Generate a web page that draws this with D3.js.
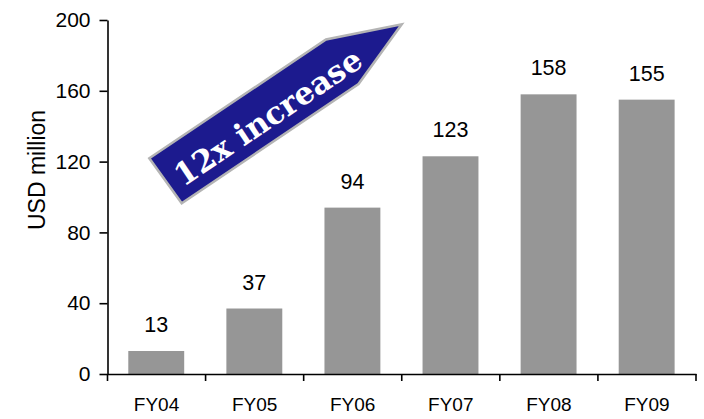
<!DOCTYPE html>
<html><head><meta charset="utf-8">
<script src="https://cdn.jsdelivr.net/npm/d3@7"></script>
<style>
html,body{margin:0;padding:0;background:#fff;}
svg{display:block;}
</style></head>
<body>
<svg id="chart" width="704" height="419"></svg>
<script>
const categories = ["FY04","FY05","FY06","FY07","FY08","FY09"];
const values = [13, 37, 94, 123, 158, 155];
const yTicks = [0, 40, 80, 120, 160, 200];
const yTitle = "USD million";
const arrowText = "12x increase";

const svg = d3.select("#chart");
const x = d3.scaleBand().domain(categories).range([107.5, 696]).paddingInner(0).paddingOuter(0);
const y = d3.scaleLinear().domain([0, 200]).range([374, 20]);
const step = x.step();
const font = "'Liberation Sans', Arial, sans-serif";

// bars
svg.append("g").selectAll("rect").data(categories).join("rect")
  .attr("x", d => x(d) + step * 0.212)
  .attr("width", step * 0.57)
  .attr("y", (d, i) => y(values[i]))
  .attr("height", (d, i) => y(0) - y(values[i]))
  .attr("fill", "#969696");

// value labels
svg.append("g").selectAll("text").data(categories).join("text")
  .attr("x", d => x(d) + step * 0.497)
  .attr("y", (d, i) => y(values[i]) - 19)
  .attr("text-anchor", "middle")
  .attr("font-family", font).attr("font-size", 21.5).attr("fill", "#000")
  .text((d, i) => values[i]);

// y axis
const yAxis = svg.append("g").attr("transform", "translate(107.5,0)")
  .call(d3.axisLeft(y).tickValues(yTicks).tickSize(8).tickSizeOuter(0).tickPadding(9));
yAxis.select(".domain").attr("stroke", "#000").attr("stroke-width", 1.6);
yAxis.selectAll(".tick line").attr("stroke", "#000").attr("stroke-width", 1.6);
yAxis.selectAll(".tick text").attr("font-family", font).attr("font-size", 21).attr("fill", "#000");

// x axis
const xAxis = svg.append("g").attr("transform", `translate(0,${y(0)})`)
  .call(d3.axisBottom(x).tickSize(0).tickSizeOuter(0).tickPadding(0));
xAxis.select(".domain").attr("stroke", "#000").attr("stroke-width", 1.6);
xAxis.selectAll(".tick text")
  .attr("font-family", font).attr("font-size", 19).attr("fill", "#000")
  .attr("dy", 0).attr("y", 37);
const bounds = categories.map(d => x(d)).concat([x.range()[1]]);
xAxis.selectAll("line.bound").data(bounds).join("line").attr("class", "bound")
  .attr("x1", d => d).attr("x2", d => d).attr("y1", 0).attr("y2", 7)
  .attr("stroke", "#000").attr("stroke-width", 1.6);

// y title
svg.append("text")
  .attr("transform", "translate(45,170) rotate(-90)")
  .attr("text-anchor", "middle")
  .attr("font-family", font).attr("font-size", 23).attr("fill", "#000")
  .text(yTitle);

// arrow annotation
const arrowPts = [[149.3,158.3],[326,39.5],[401.7,24.3],[358.5,84],[181.7,203.3]];
svg.append("polygon")
  .attr("points", arrowPts.map(p => p.join(",")).join(" "))
  .attr("fill", "#1c1a8e").attr("stroke", "#b4b4b4").attr("stroke-width", 2.5)
  .attr("stroke-linejoin", "miter");
const ang = Math.atan2(39.5 - 158.3, 326 - 149.3) * 180 / Math.PI;
svg.append("text")
  .attr("transform", `translate(268,117) rotate(${ang})`)
  .attr("text-anchor", "middle").attr("dominant-baseline", "central")
  .attr("font-family", "'DejaVu Serif', 'Liberation Serif', serif")
  .attr("font-weight", "bold").attr("font-size", 31).attr("fill", "#fff")
  .text(arrowText);
</script>
</body></html>
